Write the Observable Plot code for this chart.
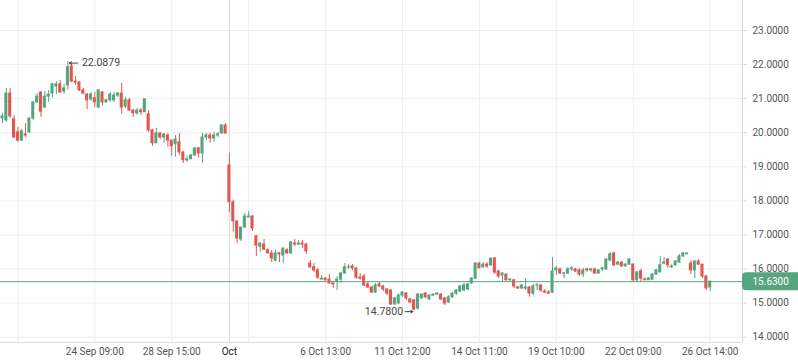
<!DOCTYPE html>
<html><head><meta charset="utf-8">
<script src="https://cdn.jsdelivr.net/npm/d3@7"></script>
<script src="https://cdn.jsdelivr.net/npm/@observablehq/plot@0.6"></script>
<style>
html,body{margin:0;padding:0;background:#fff;}
#chart svg{display:block;}
</style></head><body><div id="chart"></div>
<script>
// OHLC per bar (index order)
const open = [20.42,20.36,21.15,20.39,20.01,19.77,19.95,20.01,20.42,20.89,21.18,20.74,21.06,21.15,21.36,21.42,21.21,21.39,21.94,21.50,
21.47,21.24,21.12,20.98,21.01,20.74,21.18,20.89,20.95,20.95,21.09,21.15,20.77,20.95,20.65,20.57,20.65,20.60,20.54,20.07,
19.69,19.98,19.86,19.92,19.77,19.66,19.72,19.42,19.19,19.22,19.33,19.54,19.39,19.86,19.92,19.83,19.92,19.98,20.21,19.04,
17.96,17.40,16.87,17.22,17.51,17.54,16.96,16.66,16.72,16.55,16.46,16.25,16.46,16.40,16.55,16.46,16.75,16.72,16.75,16.72,
16.16,16.05,15.96,15.69,15.72,15.69,15.58,15.64,15.69,15.87,16.05,16.08,16.02,15.75,15.78,15.55,15.46,15.31,15.55,15.49,
15.40,15.37,14.96,14.99,15.22,15.28,15.11,15.08,14.84,15.14,15.28,15.11,15.22,15.25,15.25,15.14,15.02,15.17,15.28,15.34,
15.37,15.40,15.58,15.72,16.16,16.05,16.13,16.11,16.31,15.93,15.81,15.84,15.67,15.67,15.46,15.43,15.43,15.46,15.28,15.52,
15.52,15.34,15.31,15.31,15.96,15.99,15.87,15.87,15.99,15.99,15.96,15.84,15.99,15.96,15.99,15.87,15.99,15.99,16.25,16.46,
16.13,16.19,16.08,16.13,16.13,15.67,15.93,15.69,15.67,15.69,15.84,15.90,16.16,16.28,16.05,16.11,16.19,16.37,16.43,16.16,
15.96,16.22,16.13,15.78,15.46];
const high = [20.57,21.30,21.30,20.51,20.16,20.10,20.27,20.42,20.92,21.15,21.21,21.21,21.24,21.45,21.50,21.53,21.42,22.0879,22.03,21.65,
21.50,21.30,21.15,21.18,21.18,21.27,21.21,20.98,21.18,21.18,21.18,21.45,21.04,21.01,20.68,20.71,20.71,20.98,20.65,20.10,
20.13,20.01,19.98,19.98,19.77,19.92,19.98,19.45,19.31,19.36,19.57,19.57,19.98,19.98,19.98,20.01,20.01,20.24,20.27,19.39,
18.02,17.40,17.22,17.63,17.69,17.57,16.99,16.78,16.87,16.60,16.55,16.55,16.49,16.63,16.60,16.81,16.87,16.84,16.84,16.75,
16.25,16.16,16.02,15.81,15.75,15.84,15.58,15.78,15.90,16.16,16.13,16.13,16.02,15.87,15.84,15.61,15.49,15.58,15.61,15.52,
15.43,15.40,15.17,15.28,15.34,15.31,15.14,15.11,15.28,15.28,15.31,15.25,15.28,15.31,15.28,15.17,15.22,15.31,15.40,15.52,
15.58,15.58,15.75,16.19,16.19,16.19,16.19,16.31,16.34,15.96,15.90,15.84,15.72,15.69,15.49,15.55,15.72,15.49,15.55,15.58,
15.55,15.40,15.37,16.34,16.08,16.02,15.90,16.05,16.08,16.02,16.02,16.02,16.02,16.02,16.02,15.99,16.05,16.31,16.49,16.49,
16.22,16.22,16.16,16.31,16.16,15.93,15.99,15.75,15.75,15.87,15.99,16.37,16.34,16.31,16.13,16.25,16.43,16.49,16.46,16.25,
16.25,16.28,16.13,15.81,15.64];
const low = [20.27,20.30,20.42,19.83,19.72,19.74,19.86,19.98,20.36,20.86,20.45,20.71,20.89,21.03,21.12,21.15,21.12,21.25,21.47,21.39,
21.21,21.12,20.68,20.92,20.74,20.71,20.80,20.86,20.89,20.89,21.03,20.54,20.71,20.62,20.45,20.51,20.51,20.60,20.01,19.60,
19.69,19.80,19.69,19.57,19.31,19.28,19.33,19.10,19.13,19.22,19.31,19.25,19.10,19.77,19.69,19.72,19.86,19.95,19.95,17.66,
17.08,16.75,16.81,17.19,17.51,17.10,16.37,16.49,16.55,16.46,16.19,16.22,16.19,16.16,16.43,16.43,16.66,16.69,16.60,16.43,
16.02,15.90,15.69,15.69,15.64,15.55,15.43,15.37,15.58,15.84,15.99,15.96,15.69,15.67,15.49,15.43,15.28,15.28,15.46,15.34,
15.22,14.93,14.93,14.96,15.17,15.08,14.99,14.78,14.80,15.11,15.14,15.08,15.20,15.22,15.08,14.93,14.99,15.14,15.22,15.31,
15.34,15.37,15.55,15.69,16.02,16.02,16.02,16.08,15.84,15.72,15.61,15.64,15.64,15.43,15.40,15.40,15.37,15.17,15.22,15.37,
15.31,15.28,15.25,15.28,15.81,15.84,15.72,15.84,15.93,15.90,15.78,15.75,15.90,15.90,15.84,15.84,15.93,15.96,16.22,16.08,
16.11,16.05,16.05,16.11,15.61,15.61,15.61,15.67,15.67,15.67,15.81,15.90,16.13,16.02,16.02,16.08,16.19,16.34,16.43,15.84,
15.72,16.11,15.72,15.37,15.34];
const close = [20.48,21.15,20.48,19.86,19.77,20.04,19.92,20.42,20.89,21.06,20.62,21.06,21.12,21.42,21.42,21.18,21.30,21.92,21.50,21.47,
21.24,21.15,20.95,21.12,20.89,21.24,20.89,20.95,21.12,21.09,21.15,20.74,20.95,20.65,20.57,20.65,20.60,20.98,20.07,19.69,
19.98,19.86,19.95,19.77,19.60,19.80,19.42,19.19,19.22,19.33,19.54,19.39,19.86,19.92,19.83,19.92,19.95,20.21,19.98,17.96,
17.40,16.90,17.22,17.54,17.54,17.19,16.69,16.75,16.57,16.46,16.31,16.46,16.43,16.60,16.46,16.78,16.72,16.75,16.72,16.52,
16.05,15.96,15.75,15.72,15.67,15.58,15.55,15.69,15.87,16.05,16.05,16.02,15.75,15.72,15.52,15.46,15.31,15.52,15.49,15.40,
15.28,14.96,15.14,15.22,15.31,15.14,15.02,14.81,15.25,15.25,15.17,15.22,15.25,15.28,15.11,14.99,15.17,15.28,15.37,15.49,
15.52,15.55,15.72,16.16,16.02,16.13,16.08,16.31,15.90,15.78,15.87,15.67,15.69,15.49,15.43,15.52,15.46,15.28,15.49,15.52,
15.37,15.31,15.28,15.93,16.02,15.87,15.87,15.99,16.02,15.93,15.84,15.96,15.96,15.99,15.87,15.96,16.02,16.28,16.43,16.11,
16.19,16.08,16.13,16.28,15.67,15.90,15.72,15.67,15.72,15.84,15.96,16.11,16.19,16.11,16.08,16.22,16.37,16.46,16.46,15.96,
16.22,16.13,15.78,15.43,15.63];

// x axis: bar index of each labelled tick and its label
const tickIndex = [24, 44, 59, 84, 104, 124, 144, 164, 184];
const tickLabels = ["24 Sep 09:00", "28 Sep 15:00", "Oct", "6 Oct 13:00", "11 Oct 12:00", "14 Oct 11:00", "19 Oct 10:00", "22 Oct 09:00", "26 Oct 14:00"];
const gridIndex = [4, 24, 44, 64, 84, 104, 124, 144, 164, 184];
const monthIndex = [59];
const yTicks = [14, 15, 16, 17, 18, 19, 20, 21, 22, 23];
const lastPrice = [15.63];
const highMark = [{i: 17, v: 22.0879}];
const lowMark = [{i: 107, v: 14.78}];

const GREEN = "#56a57e", RED = "#e25651", GRAY = "#7d7d7d";
const candles = open.map((o, i) => ({i, open: o, high: high[i], low: low[i], close: close[i]}));
const colorOf = d => d.close > d.open ? GREEN : d.close < d.open ? RED : GRAY;

const xDomain = [-0.52, 192.4];
const yDomain = [13.845, 23.88];

const chart = Plot.plot({
  width: 798, height: 363,
  marginLeft: 0, marginRight: 56, marginTop: 0, marginBottom: 21,
  style: {fontFamily: "Roboto, 'Noto Sans', sans-serif", fontSize: "10px", background: "#fff", color: "#4a4a4a"},
  x: {domain: xDomain, axis: null},
  y: {domain: yDomain, axis: null},
  color: {type: "identity"},
  marks: [
    Plot.ruleY(yTicks, {stroke: "#efefef"}),
    Plot.ruleX(gridIndex, {stroke: "#efefef"}),
    Plot.ruleX(monthIndex, {stroke: "#d9d9d9"}),
    Plot.ruleX([xDomain[1]], {stroke: "#d8d8d8"}),
    Plot.ruleY([yDomain[0]], {stroke: "#d8d8d8"}),
    Plot.ruleX(candles, {x: "i", y1: "low", y2: "high", stroke: colorOf, strokeWidth: 1}),
    Plot.rect(candles, {x1: d => d.i - 0.4, x2: d => d.i + 0.4, y1: "open", y2: "close", fill: colorOf, insetTop: -0.5, insetBottom: -0.5}),
    Plot.ruleY(lastPrice, {stroke: GREEN, strokeWidth: 1}),
    Plot.axisY(yTicks, {anchor: "right", tickFormat: d => d.toFixed(4), tickSize: 4, tickPadding: 6, stroke: "#d8d8d8", fill: "#555", label: null}),
    Plot.axisX(tickIndex.filter(t => !monthIndex.includes(t)), {anchor: "bottom", tickSize: 0, tickPadding: 5, fill: "#555", label: null,
      tickFormat: d => tickLabels[tickIndex.indexOf(d)]}),
    Plot.axisX(monthIndex, {anchor: "bottom", tickSize: 0, tickPadding: 5, fill: "#131722", label: null,
      tickFormat: d => tickLabels[tickIndex.indexOf(d)]}),
    Plot.rect(lastPrice, {x1: xDomain[1], x2: xDomain[1] + 16, y1: d => d - 0.265, y2: d => d + 0.265, fill: GREEN, rx: 4}),
    Plot.text(lastPrice, {x: xDomain[1], y: d => d, text: d => d.toFixed(4), dx: 10, textAnchor: "start", fill: "#fff"}),
    Plot.arrow(highMark, {x1: d => d.i + 2.5, x2: d => d.i + 0.35, y1: "v", y2: "v", dy: 1.5, stroke: "#444", strokeWidth: 1, headLength: 5, bend: 0}),
    Plot.text(highMark, {x: "i", y: "v", text: d => d.v.toFixed(4), dx: 14, dy: 1.5, textAnchor: "start", fill: "#444", fontSize: 10.5}),
    Plot.arrow(lowMark, {x1: d => d.i - 2.3, x2: d => d.i - 0.3, y1: "v", y2: "v", dy: 1, stroke: "#444", strokeWidth: 1, headLength: 5, bend: 0}),
    Plot.text(lowMark, {x: "i", y: "v", text: d => d.v.toFixed(4), dx: -11, dy: 1, textAnchor: "end", fill: "#444", fontSize: 10.5})
  ]
});
document.getElementById("chart").appendChild(chart);
</script>
</body></html>
